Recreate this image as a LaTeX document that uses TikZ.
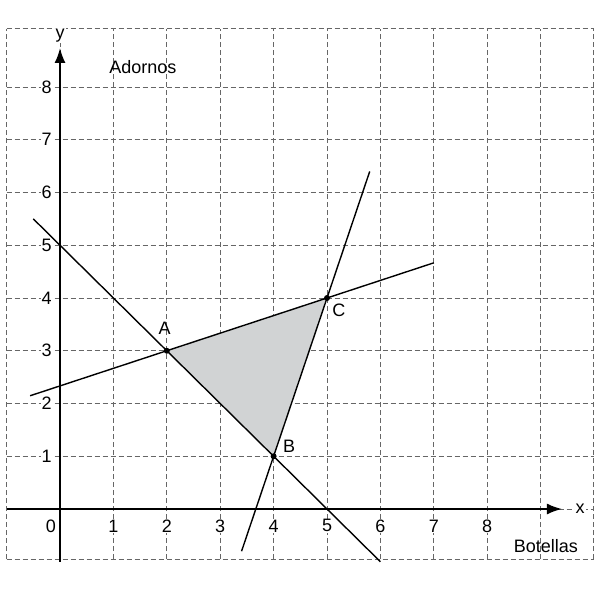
\documentclass[tikz,border=0pt]{standalone}
\usepackage{fontspec}
\setmainfont{Liberation Sans}
\usetikzlibrary{arrows.meta}
\definecolor{sombra}{RGB}{209,211,212}
\begin{document}
\begin{tikzpicture}[
  x=53.4pt,
  y=52.75pt,
  line cap=butt,
  line join=round,
  every node/.style={font=\fontsize{18}{21}\selectfont},
  etiq/.style={fill=white, inner sep=1pt},
  gridline/.style={draw=black!60, line width=1pt, dash pattern=on 5pt off 3pt},
  axis/.style={line width=1.8pt, -{Latex[length=15pt,width=11pt]}},
  recta/.style={line width=1.4pt},
  punto/.style={circle, fill=black, inner sep=0pt, minimum size=6pt}
]
  \useasboundingbox (-1.124,-1.555) rectangle (10.15,9.65);

  \def\ytop{9.1}
  \def\ybot{-0.95}

  % Cuadricula
  \foreach \i in {-1,...,10}
    \draw[gridline] (\i,\ybot)--(\i,\ytop);
  \foreach \j in {0,...,8}
    \draw[gridline] (-1,\j)--(10,\j);
  \draw[gridline] (-1,\ybot)--(10,\ybot);
  \draw[gridline] (-1,\ytop)--(10,\ytop);

  \coordinate (A) at (2,3);
  \coordinate (B) at (4,1);
  \coordinate (C) at (5,4);

  % Region factible
  \fill[sombra] (A)--(B)--(C)--cycle;

  % Ejes
  \draw[axis] (-1,0)--(9.4,0);
  \draw[axis] (0,-1)--(0,8.74);
  \node[etiq] (ex) at (9.74,0) {x};
  \node[etiq] (ey) at (0,8.97) {y};
  \node (adornos) at (1.55,8.38) {Adornos};
  \node (botellas) at (9.1,-0.7) {Botellas};

  \node[etiq] (n0) at (-0.17,-0.32) {0};
  \foreach \i in {1,...,8}
    \node[etiq] at (\i,-0.32) {\i};
  \foreach \j in {1,...,8}
    \node[etiq] at (-0.25,\j) {\j};

  % Rectas
  \draw[recta] (-0.56,2.147)--(7,4.667);
  \draw[recta] (-0.5,5.5)--(6,-1);
  \draw[recta] (3.4,-0.8)--(5.8,6.4);

  % Vertices
  \node[punto] (pA) at (A) {};
  \node[punto] (pB) at (B) {};
  \node[punto] (pC) at (C) {};
  \node (lA) at (1.96,3.43) {A};
  \node (lB) at (4.29,1.18) {B};
  \node (lC) at (5.22,3.77) {C};
\end{tikzpicture}
\end{document}
